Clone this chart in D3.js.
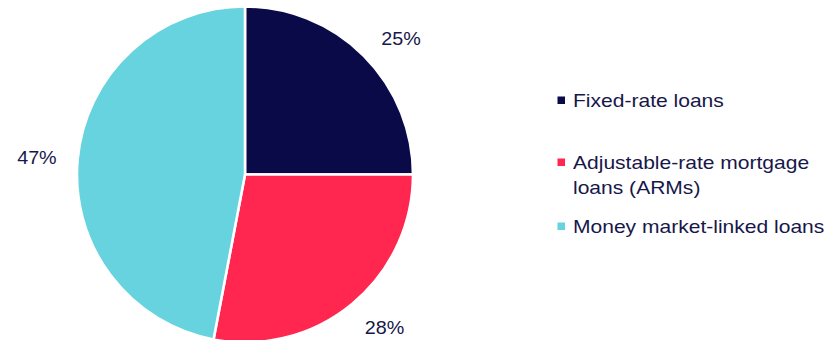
<!DOCTYPE html>
<html>
<head>
<meta charset="utf-8">
<script src="https://cdn.jsdelivr.net/npm/d3@7/dist/d3.min.js"></script>
<style>
  html, body { margin: 0; padding: 0; background: #ffffff; }
  svg { display: block; font-family: Arial, "Liberation Sans", sans-serif; }
</style>
</head>
<body>
<svg id="chart" width="837" height="340"></svg>
<script>
// Loan types and their share of the total
const categories = ["Fixed-rate loans", "Adjustable-rate mortgage loans (ARMs)", "Money market-linked loans"];
const legendLines = [["Fixed-rate loans"], ["Adjustable-rate mortgage", "loans (ARMs)"], ["Money market-linked loans"]];
const shares = [25, 28, 47];
const shareLabels = ["25%", "28%", "47%"];
const colors = ["#0a0a48", "#ff264f", "#66d3de"];

const svg = d3.select("#chart");
const textColor = "#17174a";

const cx = 245, cy = 174.5, radius = 168;

const pie = d3.pie().sort(null).value(d => d)(shares);
const arc = d3.arc().innerRadius(0).outerRadius(radius);

const g = svg.append("g").attr("transform", `translate(${cx},${cy})`);

g.selectAll("path.slice")
  .data(pie)
  .join("path")
  .attr("class", "slice")
  .attr("d", arc)
  .attr("fill", (d, i) => colors[i])
  .attr("stroke", "#ffffff")
  .attr("stroke-width", 2.6)
  .attr("stroke-linejoin", "round");

// Percentage labels sit outside each slice along its middle angle
const labelArc = d3.arc().innerRadius(208).outerRadius(208);
const labelNudge = [[9, 11], [7, -7], [-1, 3]];
g.selectAll("text.pct")
  .data(pie)
  .join("text")
  .attr("class", "pct")
  .attr("transform", (d, i) => {
    const [x, y] = labelArc.centroid(d);
    return `translate(${x + labelNudge[i][0]},${y + labelNudge[i][1]}) scale(1.05,1)`;
  })
  .attr("text-anchor", "middle")
  .attr("dominant-baseline", "central")
  .attr("font-size", 18.8)
  .attr("fill", textColor)
  .text((d, i) => shareLabels[i]);

// Legend
const legendX = 557.5;
const legendTops = [100, 162, 226];
const legend = svg.append("g");
categories.forEach((c, i) => {
  const item = legend.append("g").attr("transform", `translate(${legendX},${legendTops[i]})`);
  item.append("rect")
    .attr("x", 0).attr("y", -3.5)
    .attr("width", 7.5).attr("height", 7.5)
    .attr("fill", colors[i]);
  legendLines[i].forEach((line, j) => {
    item.append("text")
      .attr("transform", `translate(15.5,${j * 25}) scale(1.12,1)`)
      .attr("dominant-baseline", "central")
      .attr("font-size", 18.8)
      .attr("fill", textColor)
      .text(line);
  });
});
</script>
</body>
</html>
